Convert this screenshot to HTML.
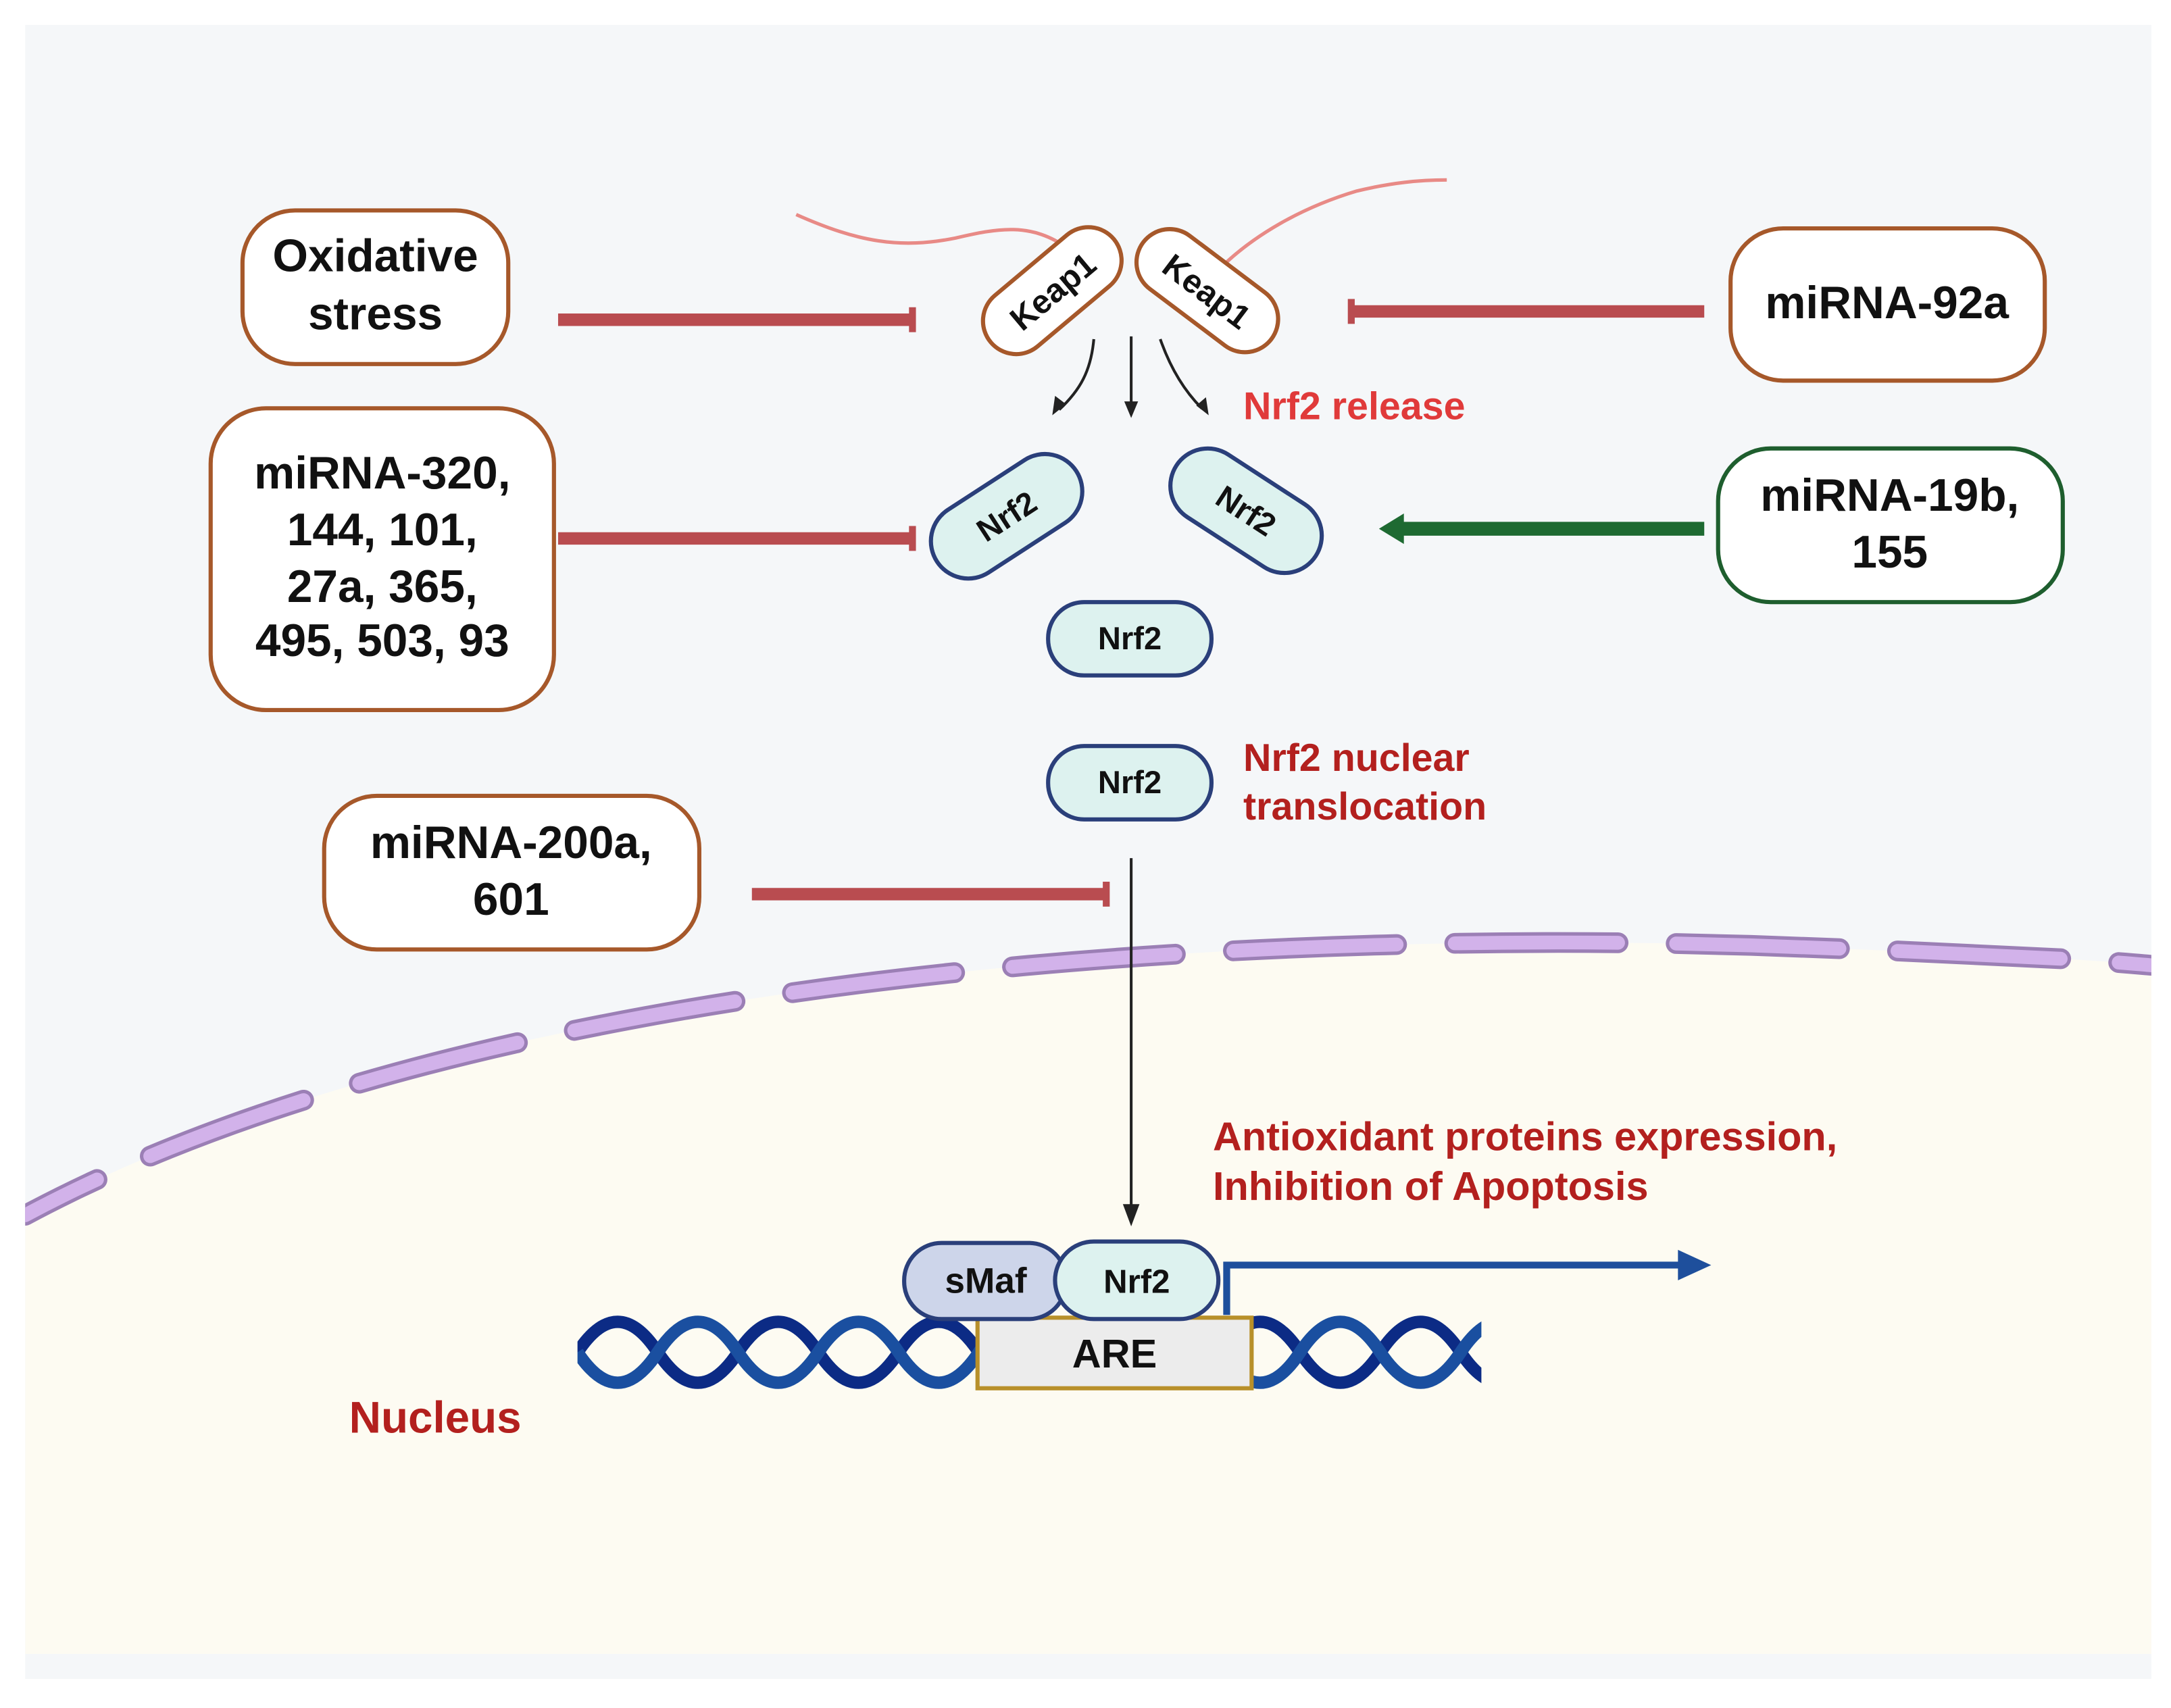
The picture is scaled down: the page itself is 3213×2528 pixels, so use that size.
<!DOCTYPE html>
<html><head><meta charset="utf-8"><style>
html,body{margin:0;padding:0;background:#fff;}
svg{display:block;}
text{font-family:"Liberation Sans",sans-serif;font-weight:bold;}
</style></head><body>
<svg width="3213" height="2528" viewBox="0 0 1568 1234" xmlns="http://www.w3.org/2000/svg">
<defs>
<clipPath id="pc"><rect x="18" y="18" width="1536" height="1177"/></clipPath>
<clipPath id="dc"><rect x="417" y="930" width="653" height="100"/></clipPath>
</defs>
<rect x="0" y="0" width="1568" height="1234" fill="#fff"/>
<rect x="18" y="18" width="1536" height="1195" fill="#f5f7f9"/>
<g clip-path="url(#pc)">
<path d="M18,878 C350,700 900,672 1265,683 C1400,688 1500,692 1560,698 L1560,1195 L18,1195 Z" fill="#fdfbf2"/>
<path d="M18,878 C350,700 900,672 1265,683 C1400,688 1500,692 1560,698" fill="none" stroke="#9b7fb5" stroke-width="15" stroke-dasharray="118 42" stroke-dashoffset="60" stroke-linecap="round"/>
<path d="M18,878 C350,700 900,672 1265,683 C1400,688 1500,692 1560,698" fill="none" stroke="#d2b2ea" stroke-width="10" stroke-dasharray="118 42" stroke-dashoffset="60" stroke-linecap="round"/>
</g>

<g fill="#fff" stroke="#a6582a" stroke-width="3">
<rect x="175" y="152" width="192" height="111" rx="38"/>
<rect x="152" y="295" width="248" height="218" rx="40"/>
<rect x="234" y="575" width="271" height="111" rx="38"/>
<rect x="1250" y="165" width="227" height="110" rx="38"/>
</g>
<rect x="1241" y="324" width="249" height="111" rx="38" fill="#fff" stroke="#1e5e2e" stroke-width="3"/>
<g font-size="33" text-anchor="middle" fill="#111">
<text x="271" y="196">Oxidative</text>
<text x="271" y="238">stress</text>
<text x="276" y="353">miRNA-320,</text>
<text x="276" y="394">144, 101,</text>
<text x="276" y="435">27a, 365,</text>
<text x="276" y="474">495, 503, 93</text>
<text x="369" y="620">miRNA-200a,</text>
<text x="369" y="661">601</text>
<text x="1363" y="230">miRNA-92a</text>
<text x="1365" y="369">miRNA-19b,</text>
<text x="1365" y="410">155</text>
</g>

<g stroke="#b94c50" stroke-width="9">
<line x1="403" y1="231" x2="658" y2="231"/>
<line x1="403" y1="389" x2="658" y2="389"/>
<line x1="543" y1="646" x2="798" y2="646"/>
<line x1="978" y1="225" x2="1231" y2="225"/>
</g>
<g stroke="#b94c50" stroke-width="5">
<line x1="659" y1="222" x2="659" y2="240"/>
<line x1="659" y1="380" x2="659" y2="398"/>
<line x1="799" y1="637" x2="799" y2="655"/>
<line x1="976" y1="216" x2="976" y2="234"/>
</g>
<line x1="1231" y1="382" x2="1012" y2="382" stroke="#1e6a32" stroke-width="10"/>
<polygon points="996,382 1014,371 1014,393" fill="#1e6a32"/>

<path d="M575,155 C620,175 650,180 690,172 C720,165 745,160 772,180" fill="none" stroke="#e88a86" stroke-width="2.5"/>
<path d="M880,195 C905,170 940,150 980,138 C1005,132 1025,130 1045,130" fill="none" stroke="#e88a86" stroke-width="2.5"/>

<g transform="translate(760,210) rotate(-40)">
<rect x="-58" y="-24" width="116" height="48" rx="24" fill="#fff" stroke="#a6582a" stroke-width="3"/>
<text x="0" y="9" font-size="24" text-anchor="middle" fill="#111">Keap1</text>
</g>
<g transform="translate(872,210) rotate(37)">
<rect x="-58" y="-24" width="116" height="48" rx="24" fill="#fff" stroke="#a6582a" stroke-width="3"/>
<text x="0" y="9" font-size="24" text-anchor="middle" fill="#111">Keap1</text>
</g>

<g fill="none" stroke="#222" stroke-width="2">
<path d="M790,245 C788,268 780,282 765,296"/>
<path d="M817,243 L817,296"/>
<path d="M838,245 C845,265 855,282 868,295"/>
</g>
<polygon points="760,300 762,286 770,292" fill="#222"/>
<polygon points="817,302 812,290 822,290" fill="#222"/>
<polygon points="873,300 864,293 871,287" fill="#222"/>
<text x="898" y="303" font-size="28" fill="#e03a3a">Nrf2 release</text>

<g transform="translate(727,373) rotate(-33)">
<rect x="-60" y="-27" width="120" height="54" rx="27" fill="#ddf2ef" stroke="#2a3f7a" stroke-width="3"/>
<text x="0" y="8" font-size="23" text-anchor="middle" fill="#111">Nrf2</text>
</g>
<g transform="translate(900,369) rotate(33)">
<rect x="-60" y="-27" width="120" height="54" rx="27" fill="#ddf2ef" stroke="#2a3f7a" stroke-width="3"/>
<text x="0" y="8" font-size="23" text-anchor="middle" fill="#111">Nrf2</text>
</g>
<rect x="757" y="435" width="118" height="53" rx="26" fill="#ddf2ef" stroke="#2a3f7a" stroke-width="3"/>
<text x="816" y="469" font-size="23" text-anchor="middle" fill="#111">Nrf2</text>
<rect x="757" y="539" width="118" height="53" rx="26" fill="#ddf2ef" stroke="#2a3f7a" stroke-width="3"/>
<text x="816" y="573" font-size="23" text-anchor="middle" fill="#111">Nrf2</text>
<text x="898" y="557" font-size="28" fill="#b3201e">Nrf2 nuclear</text>
<text x="898" y="592" font-size="28" fill="#b3201e">translocation</text>

<line x1="817" y1="620" x2="817" y2="872" stroke="#222" stroke-width="2"/>
<polygon points="817,886 811,870 823,870" fill="#222"/>

<text x="876" y="831" font-size="29" fill="#b3201e">Antioxidant proteins expression,</text>
<text x="876" y="867" font-size="29" fill="#b3201e">Inhibition of Apoptosis</text>

<g fill="none" stroke-width="9" clip-path="url(#dc)">
<path d="M417,977 q29,-44 58,0 t58,0 t58,0 t58,0 t58,0 t58,0 t58,0 t58,0 t58,0 t58,0 t58,0 t58,0" stroke="#0c2b85"/>
<path d="M417,977 q29,44 58,0 t58,0 t58,0 t58,0 t58,0 t58,0 t58,0 t58,0 t58,0 t58,0 t58,0 t58,0" stroke="#1a4fa0"/>
</g>
<rect x="706" y="952" width="198" height="51" fill="#ececec" stroke="#b8902a" stroke-width="3"/>
<text x="805" y="988" font-size="29" text-anchor="middle" fill="#111">ARE</text>

<rect x="653" y="898" width="117" height="55" rx="27" fill="#cdd5ea" stroke="#2a3f7a" stroke-width="3"/>
<text x="712" y="934" font-size="26" text-anchor="middle" fill="#111">sMaf</text>
<rect x="762" y="897" width="118" height="56" rx="28" fill="#ddf2ef" stroke="#2a3f7a" stroke-width="3"/>
<text x="821" y="934" font-size="24" text-anchor="middle" fill="#111">Nrf2</text>

<path d="M886,950 L886,914 L1215,914" fill="none" stroke="#1e4f9c" stroke-width="5"/>
<polygon points="1236,914 1212,903 1212,925" fill="#1e4f9c"/>

<text x="252" y="1035" font-size="32" fill="#b3201e">Nucleus</text>
</svg>
</body></html>
